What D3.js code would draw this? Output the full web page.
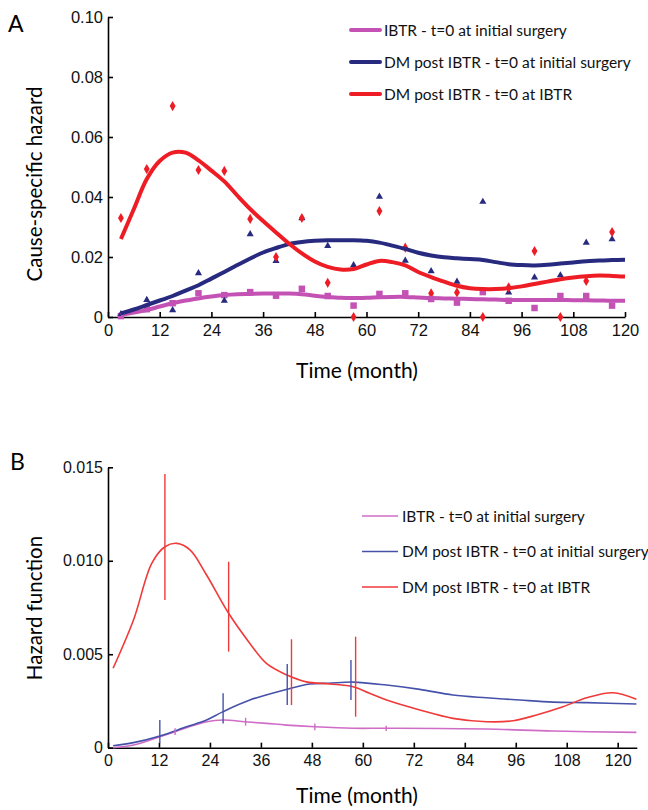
<!DOCTYPE html>
<html>
<head>
<meta charset="utf-8">
<script src="https://cdn.jsdelivr.net/npm/d3@7"></script>
<style>
  body { margin: 0; background: #fff; }
  svg { display: block; font-family: Lato, "Open Sans", sans-serif; }
  .axis path, .axis line { stroke: #000; stroke-width: 1.6px; }
  .axis text { fill: #111; }
</style>
</head>
<body>
<svg id="chart" width="648" height="810"></svg>
<script>
// ---- panel A : observed points (month midpoints) ----
var ptMonths = [3, 9, 15, 21, 27, 33, 39, 45, 51, 57, 63, 69, 75, 81, 87, 93, 99, 105, 111, 117];
var ptIBTR   = [0.0003, 0.0026, 0.0046, 0.0079, 0.0073, 0.0083, 0.0071, 0.0094, 0.0070, 0.0038,
                0.0077, 0.0079, 0.0060, 0.0048, 0.0083, 0.0054, 0.0030, 0.0070, 0.0070, 0.0038];
var ptDMsurg = [0.0010, 0.0057, 0.0023, 0.0146, 0.0054, 0.0276, 0.0187, 0.0329, 0.0237, 0.0173,
                0.0401, 0.0188, 0.0153, 0.0118, 0.0384, 0.0082, 0.0132, 0.0139, 0.0248, 0.0259];
var ptDMibtr = [0.0330, 0.0493, 0.0703, 0.0490, 0.0487, 0.0327, 0.0200, 0.0330, 0.0114, 0.0000,
                0.0353, 0.0231, 0.0079, 0.0082, 0.0000, 0.0099, 0.0220, 0.0000, 0.0120, 0.0283];

// ---- panel A : smoothed curves ----
var smMonths = [3, 6, 9, 12, 15, 18, 21, 24, 27, 30, 33, 36, 39, 42, 45, 48, 51, 54, 57, 60,
                63, 66, 69, 72, 75, 78, 81, 84, 87, 90, 93, 96, 99, 102, 105, 108, 111, 114, 117, 120];
var smIBTR   = [0.0007, 0.0015, 0.0023, 0.0035, 0.0046, 0.0055, 0.0062, 0.0068, 0.0073, 0.0076,
                0.0077, 0.0078, 0.0078, 0.0078, 0.0076, 0.0071, 0.0067, 0.0064, 0.0063, 0.0064,
                0.0066, 0.0067, 0.0067, 0.0065, 0.0063, 0.0062, 0.0061, 0.0060, 0.0059, 0.0058,
                0.0057, 0.0057, 0.0057, 0.0057, 0.0057, 0.0056, 0.0056, 0.0055, 0.0054, 0.0054];
var smDMsurg = [0.0012, 0.0025, 0.0040, 0.0055, 0.0070, 0.0088, 0.0106, 0.0128, 0.0150, 0.0173,
                0.0195, 0.0215, 0.0230, 0.0243, 0.0250, 0.0254, 0.0256, 0.0256, 0.0256, 0.0254,
                0.0248, 0.0238, 0.0227, 0.0214, 0.0205, 0.0199, 0.0196, 0.0193, 0.0190, 0.0183,
                0.0176, 0.0173, 0.0172, 0.0174, 0.0178, 0.0182, 0.0186, 0.0188, 0.0190, 0.0191];
var smDMibtr = [0.0260, 0.0360, 0.0460, 0.0520, 0.0548, 0.0548, 0.0522, 0.0488, 0.0452, 0.0405,
                0.0360, 0.0320, 0.0282, 0.0245, 0.0212, 0.0185, 0.0167, 0.0158, 0.0160, 0.0175,
                0.0187, 0.0183, 0.0172, 0.0150, 0.0133, 0.0118, 0.0104, 0.0096, 0.0093, 0.0093,
                0.0096, 0.0102, 0.0110, 0.0118, 0.0126, 0.0132, 0.0136, 0.0138, 0.0137, 0.0135];

// ---- panel B : hazard function curves ----
var hzIBTRm   = [1.2, 6, 12.2, 15.8, 18.5, 23.2, 27.1, 32.2, 37.3, 42, 48.7, 57.7, 65.6, 89.1, 104.8, 124.4];
var hzIBTR    = [0, 0.00014, 0.00059, 0.00086, 0.00107, 0.00139, 0.00148, 0.00139, 0.0013, 0.00121,
                 0.00112, 0.00104, 0.00104, 0.0010, 0.00089, 0.00082];
var hzDMsurgm = [1.2, 6, 12.2, 18.5, 23.2, 27.1, 33.4, 42, 47.5, 52, 57.7, 65.6, 73.4, 81.2, 89.1, 96.9, 104.8, 112.7, 124.4];
var hzDMsurg  = [0.0001, 0.00027, 0.00063, 0.00112, 0.00148, 0.00193, 0.00255, 0.00312, 0.00341, 0.00345,
                 0.00351, 0.00335, 0.00312, 0.00282, 0.00267, 0.00255, 0.00244, 0.00241, 0.00234];
var hzDMibtrm = [1.2, 6, 10.3, 13.4, 16.2, 19.3, 23.2, 28.4, 33.4, 37.3, 42, 46.7, 52.2, 57.7, 61.6, 65.6,
                 73.4, 81.2, 89.1, 95.4, 100.9, 107.1, 112.7, 118.9, 124.4];
var hzDMibtr  = [0.00425, 0.00683, 0.00986, 0.01075, 0.01093, 0.01058, 0.00924, 0.00719, 0.00558, 0.00451,
                 0.0039, 0.00352, 0.00341, 0.00326, 0.00291, 0.00255, 0.00202, 0.00157, 0.00139, 0.00144,
                 0.00175, 0.00219, 0.00267, 0.00294, 0.00259];

// error bars (month, low, high)
var barIBTRm   = [15.8, 32.4, 48.7, 65.5];
var barIBTRlo  = [0.00068, 0.00118, 0.00094, 0.00090];
var barIBTRhi  = [0.00104, 0.00160, 0.00130, 0.00118];
var barDMsurgm  = [12.2, 27.1, 42.2, 57.2];
var barDMsurglo = [0.00024, 0.0013, 0.00228, 0.00255];
var barDMsurghi = [0.00148, 0.00291, 0.00448, 0.00469];
var barDMibtrm  = [13.4, 28.4, 43.2, 58.3];
var barDMibtrlo = [0.0079, 0.00514, 0.00228, 0.00166];
var barDMibtrhi = [0.01464, 0.00995, 0.0058, 0.00594];

var legendA = ["IBTR - t=0 at initial surgery", "DM post IBTR - t=0 at initial surgery", "DM post IBTR - t=0 at IBTR"];
var xTicks = [0, 12, 24, 36, 48, 60, 72, 84, 96, 108, 120];
var yTicksA = [0, 0.02, 0.04, 0.06, 0.08, 0.10];
var yTicksB = [0, 0.005, 0.010, 0.015];

var colA = ["#c452b5", "#272a7e", "#ee1c25"];
var colB = ["#cf6cc6", "#4652aa", "#f03a3a"];

var svg = d3.select("#chart");
svg.append("rect").attr("width", 648).attr("height", 810).attr("fill", "#fff");

function zip(a, b) { return a.map(function(d, i) { return [d, b[i]]; }); }

// ================= panel A =================
var xA = d3.scaleLinear().domain([0, 120]).range([108, 625]);
var yA = d3.scaleLinear().domain([0, 0.1]).range([317, 17]);

svg.append("g").attr("class", "axis")
  .attr("transform", "translate(0,317)")
  .call(d3.axisBottom(xA).tickValues(xTicks).tickSizeInner(-5).tickSizeOuter(0).tickPadding(7))
  .selectAll("text").style("font-size", "16.5px");

svg.append("g").attr("class", "axis")
  .attr("transform", "translate(108,0)")
  .call(d3.axisLeft(yA).tickValues(yTicksA).tickSizeInner(-5).tickSizeOuter(0).tickPadding(5)
    .tickFormat(function(d) { return d === 0 ? "0" : d3.format(".2f")(d); }))
  .selectAll("text").style("font-size", "16.5px");

var lineA = d3.line().curve(d3.curveCatmullRom)
  .x(function(d) { return xA(d[0]); }).y(function(d) { return yA(d[1]); });

var ptSets = [ptIBTR, ptDMsurg, ptDMibtr];
var symTypes = [d3.symbolSquare, d3.symbolTriangle, d3.symbolDiamond];
var symSizes = [42, 22, 30];
ptSets.forEach(function(vals, k) {
  svg.append("g").selectAll("path")
    .data(zip(ptMonths, vals))
    .enter().append("path")
      .attr("d", d3.symbol().type(symTypes[k]).size(symSizes[k]))
      .attr("transform", function(d) { return "translate(" + xA(d[0]) + "," + yA(d[1]) + ")"; })
      .attr("fill", colA[k]);
});

[smIBTR, smDMsurg, smDMibtr].forEach(function(vals, k) {
  svg.append("path")
    .datum(zip(smMonths, vals))
    .attr("d", lineA)
    .attr("fill", "none")
    .attr("stroke", colA[k])
    .attr("stroke-width", 4);
});

// legend A
legendA.forEach(function(t, i) {
  var ly = 30 + i * 32;
  svg.append("line").attr("x1", 351).attr("x2", 380).attr("y1", ly).attr("y2", ly)
    .attr("stroke", colA[i]).attr("stroke-width", 4).attr("stroke-linecap", "round");
  svg.append("text").attr("x", 384).attr("y", ly + 5.5).style("font-size", "15.5px").attr("fill", "#111").text(t);
});

svg.append("text").attr("x", 8).attr("y", 32).style("font-size", "23px").text("A");
svg.append("text").attr("transform", "translate(42,184) rotate(-90)")
  .attr("text-anchor", "middle").style("font-size", "20.5px").text("Cause-specific hazard");
svg.append("text").attr("x", 357).attr("y", 378)
  .attr("text-anchor", "middle").style("font-size", "21px").text("Time (month)");

// ================= panel B =================
var xB = d3.scaleLinear().domain([0, 124.5]).range([108, 636.8]);
var yB = d3.scaleLinear().domain([0, 0.015]).range([747.7, 467.3]);

svg.append("g").attr("class", "axis")
  .attr("transform", "translate(0,747.7)")
  .call(d3.axisBottom(xB).tickValues(xTicks).tickSizeInner(-5).tickSizeOuter(0).tickPadding(7))
  .selectAll("text").style("font-size", "16px");

svg.append("g").attr("class", "axis")
  .attr("transform", "translate(108,0)")
  .call(d3.axisLeft(yB).tickValues(yTicksB).tickSizeInner(-5).tickSizeOuter(0).tickPadding(5)
    .tickFormat(function(d) { return d === 0 ? "0" : d3.format(".3f")(d); }))
  .selectAll("text").style("font-size", "16px");

var lineB = d3.line().curve(d3.curveCatmullRom)
  .x(function(d) { return xB(d[0]); }).y(function(d) { return yB(d[1]); });

var hzSets = [[hzIBTRm, hzIBTR], [hzDMsurgm, hzDMsurg], [hzDMibtrm, hzDMibtr]];
hzSets.forEach(function(s, k) {
  svg.append("path")
    .datum(zip(s[0], s[1]))
    .attr("d", lineB)
    .attr("fill", "none")
    .attr("stroke", colB[k])
    .attr("stroke-width", 1.6);
});

var barSets = [[barIBTRm, barIBTRlo, barIBTRhi], [barDMsurgm, barDMsurglo, barDMsurghi], [barDMibtrm, barDMibtrlo, barDMibtrhi]];
barSets.forEach(function(s, k) {
  svg.append("g").selectAll("line")
    .data(s[0])
    .enter().append("line")
      .attr("x1", function(d) { return xB(d); }).attr("x2", function(d) { return xB(d); })
      .attr("y1", function(d, i) { return yB(s[1][i]); })
      .attr("y2", function(d, i) { return yB(s[2][i]); })
      .attr("stroke", colB[k]).attr("stroke-width", 1.4);
});

// legend B
legendA.forEach(function(t, i) {
  var ly = 516 + i * 35.5;
  svg.append("line").attr("x1", 362).attr("x2", 398).attr("y1", ly).attr("y2", ly)
    .attr("stroke", colB[i]).attr("stroke-width", 1.6);
  svg.append("text").attr("x", 402).attr("y", ly + 5.5).style("font-size", "15.5px").attr("fill", "#111").text(t);
});

svg.append("text").attr("x", 10).attr("y", 470).style("font-size", "23px").text("B");
svg.append("text").attr("transform", "translate(42,608) rotate(-90)")
  .attr("text-anchor", "middle").style("font-size", "20.5px").text("Hazard function");
svg.append("text").attr("x", 357).attr("y", 803)
  .attr("text-anchor", "middle").style("font-size", "21px").text("Time (month)");
</script>
</body>
</html>
